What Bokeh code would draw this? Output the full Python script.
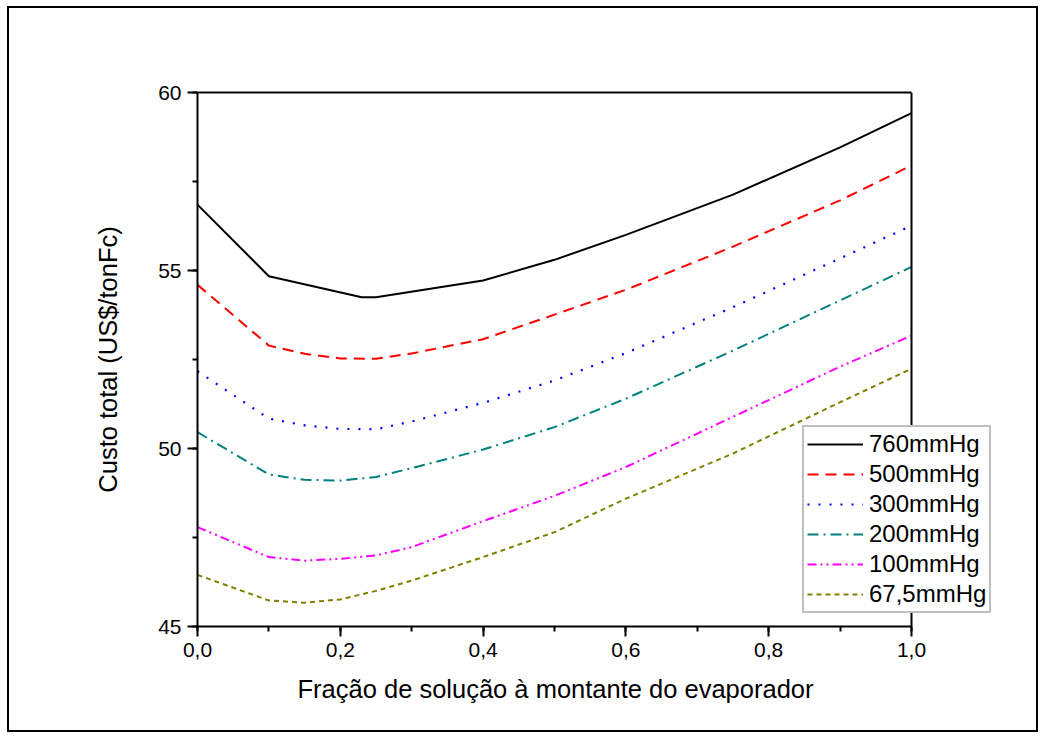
from bokeh.plotting import figure
from bokeh.models import (SingleIntervalTicker, CustomJSTickFormatter, Legend,
                          LegendItem, Range1d, LinearAxis, FixedTicker, Span, Title)
from bokeh.embed import file_html
from bokeh.resources import INLINE

# ---- data ----
x_760 = [0.0, 0.1, 0.23, 0.25, 0.4, 0.5, 0.6, 0.75, 0.9, 1.0]
y_760 = [56.85, 54.84, 54.25, 54.25, 54.72, 55.3, 56.0, 57.13, 58.46, 59.42]

x_grid = [0.0, 0.1, 0.15, 0.2, 0.25, 0.3, 0.4, 0.5, 0.6, 0.75, 0.9, 1.0]
y_500 = [54.6, 52.89, 52.66, 52.53, 52.52, 52.67, 53.07, 53.76, 54.46, 55.67, 56.97, 57.95]
y_300 = [52.17, 50.84, 50.65, 50.55, 50.54, 50.76, 51.28, 51.91, 52.68, 53.97, 55.34, 56.26]
y_200 = [50.46, 49.27, 49.12, 49.1, 49.2, 49.45, 49.97, 50.6, 51.4, 52.75, 54.16, 55.1]
y_100 = [47.79, 46.95, 46.85, 46.9, 47.0, 47.23, 47.96, 48.67, 49.48, 50.89, 52.3, 53.17]
y_675 = [46.45, 45.73, 45.67, 45.76, 46.0, 46.29, 46.95, 47.65, 48.59, 49.86, 51.3, 52.24]

series_labels = ["760mmHg", "500mmHg", "300mmHg", "200mmHg", "100mmHg", "67,5mmHg"]
x_title = "Fração de solução à montante do evaporador"
y_title = "Custo total (US$/tonFc)"
x_min, x_max = 0.0, 1.0
y_min, y_max = 45, 60

FONT = "Liberation Sans"

# the frame is widened to the right so the legend (which overhangs the
# axis box in the reference) is not clipped; the visible box stops at x_max
FRAME_W = 803
PX_PER_UNIT = 714
p = figure(width=1049, height=744, output_backend="svg", toolbar_location=None,
           x_range=Range1d(x_min, x_min + FRAME_W / PX_PER_UNIT),
           y_range=Range1d(y_min, y_max),
           min_border_left=197, min_border_right=1049 - 197 - FRAME_W,
           min_border_top=92, min_border_bottom=118)
p.frame_width = FRAME_W
p.frame_height = 534
p.background_fill_color = "white"
p.border_fill_alpha = 0.0
p.outline_line_color = None
p.xgrid.visible = False
p.ygrid.visible = False
p.styles = {"background-color": "white",
            "box-shadow": "inset -2px -3px 0 9px white, inset -2px -3px 0 11px black"}

p.xaxis.ticker = SingleIntervalTicker(interval=0.2, num_minor_ticks=2)
p.yaxis.ticker = SingleIntervalTicker(interval=5, num_minor_ticks=2)
p.xaxis.formatter = CustomJSTickFormatter(code="return tick.toFixed(1).replace('.', ',');")
p.yaxis.formatter = CustomJSTickFormatter(code="return tick.toFixed(0);")
p.xaxis.bounds = (x_min, x_max)

for ax in (p.xaxis[0], p.yaxis[0]):
    ax.axis_line_color = "black"
    ax.axis_line_width = 2
    ax.major_tick_line_width = 2
    ax.minor_tick_line_width = 2
    ax.major_tick_out = 10
    ax.major_tick_in = 0
    ax.minor_tick_out = 5
    ax.minor_tick_in = 0
    ax.major_label_text_font = FONT
    ax.major_label_text_font_size = "21px"
    ax.major_label_text_color = "black"
    ax.axis_label_text_font = FONT
    ax.axis_label_text_font_size = "25.5px"
    ax.axis_label_text_font_style = "normal"
    ax.axis_label_text_color = "black"

p.yaxis.axis_label = y_title
p.xaxis.major_label_standoff = 6
p.yaxis.major_label_standoff = 6
p.yaxis.axis_label_standoff = 33

# x-axis title, centred under the visible axis box (not the widened frame)
xt = Title(text=x_title, align="left", offset=100, text_font=FONT,
           text_font_size="25.5px", text_font_style="normal", text_color="black",
           standoff=26)
p.add_layout(xt, "below")

# top edge of the axis box
top = LinearAxis(ticker=FixedTicker(ticks=[]), bounds=(x_min, x_max),
                 axis_line_color="black", axis_line_width=2)
p.add_layout(top, "above")
# right edge of the axis box
p.add_layout(Span(location=x_max, dimension="height", line_color="black",
                  line_width=2))

r1 = p.line(x_760, y_760, line_color="black", line_width=2)
r2 = p.line(x_grid, y_500, line_color="#FF0000", line_width=2, line_dash="11 7")
r3 = p.line(x_grid, y_300, line_color="#0000FF", line_width=2.2, line_dash="2 9")
r4 = p.line(x_grid, y_200, line_color="#008080", line_width=2, line_dash="11 5 2 5")
r5 = p.line(x_grid, y_100, line_color="#FF00FF", line_width=2, line_dash="9 4 2 4 2 4")
r6 = p.line(x_grid, y_675, line_color="#808000", line_width=2, line_dash="5 4")

items = [LegendItem(label=lab, renderers=[r]) for lab, r in
         zip(series_labels, [r1, r2, r3, r4, r5, r6])]
legend = Legend(items=items, location=(605, 13))
legend.label_text_font = FONT
legend.label_text_font_size = "24px"
legend.label_text_color = "black"
legend.glyph_width = 56
legend.glyph_height = 24
legend.label_height = 24
legend.label_standoff = 6
legend.spacing = 2
legend.padding = 3
legend.margin = 0
legend.border_line_color = "#808080"
legend.border_line_width = 2
legend.background_fill_color = "white"
legend.background_fill_alpha = 1.0
p.add_layout(legend)

open("out.html", "w").write(file_html(p, INLINE))
